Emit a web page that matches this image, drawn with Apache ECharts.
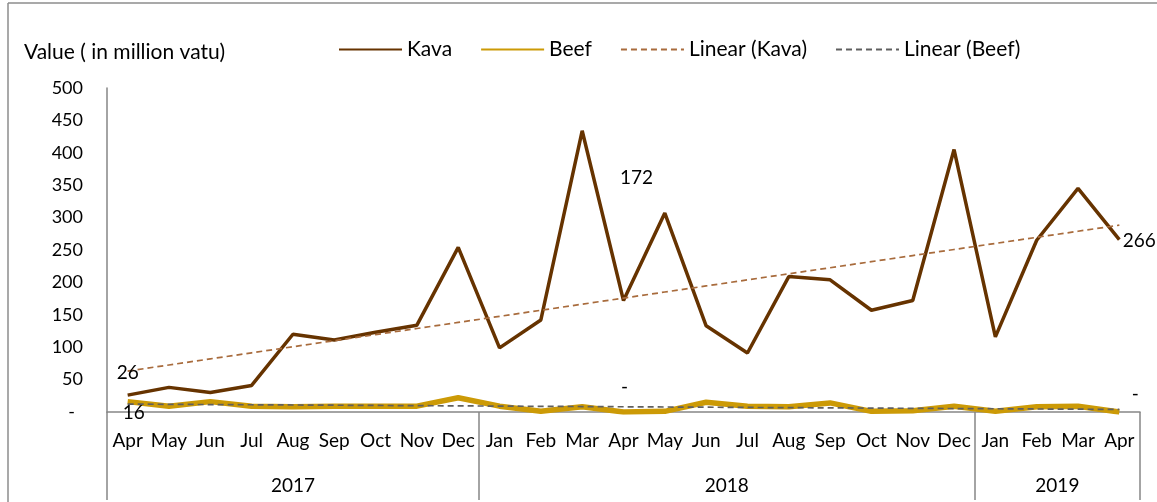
<!DOCTYPE html>
<html>
<head>
<meta charset="utf-8">
<script src="https://cdn.jsdelivr.net/npm/echarts@6/dist/echarts.min.js"></script>
<style>
  html, body { margin: 0; padding: 0; background: #fff; }
  #chart { width: 1157px; height: 502px; }
</style>
</head>
<body>
<div id="chart"></div>
<script>
// months Apr 2017 .. Apr 2019
var months = ['Apr','May','Jun','Jul','Aug','Sep','Oct','Nov','Dec',
              'Jan','Feb','Mar','Apr','May','Jun','Jul','Aug','Sep','Oct','Nov','Dec',
              'Jan','Feb','Mar','Apr'];
var years = ['2017', '2018', '2019'];
var monthsPerYear = [9, 12, 4];

// value in million vatu
var kava = [26, 38, 30, 41, 120, 111, 123, 134, 254,
            99, 142, 434, 172, 307, 133, 91, 209, 204, 157, 172, 405,
            116, 265, 345, 266];
var beef = [16, 9, 16, 9, 8, 9, 9, 9, 22,
            9, 1, 8, 0, 1, 15, 9, 8, 14, 1, 2, 9,
            1, 8, 9, 0];

var FONT = 'Lato';

// trend line (least squares), same as excel "Linear"
function linear(arr){
    var n = arr.length, sx = 0, sy = 0, sxy = 0, sxx = 0;
    for (var i = 0; i < n; i++) {
        sx += i; sy += arr[i]; sxy += i * arr[i]; sxx += i * i;
    }
    var b = (n * sxy - sx * sy) / (n * sxx - sx * sx);
    var a = (sy - b * sx) / n;
    var out = [];
    for (var j = 0; j < n; j++) out.push(+(a + b * j).toFixed(2));
    return out;
}

// year axis: half-month slots so year names sit in the middle of their span
var yearSlots = [];
var yearTicks = {};
for (var k = 0; k <= months.length * 2; k++) yearSlots.push('');
var start = 0;
for (var y = 0; y < years.length; y++) {
    yearSlots[start * 2 + monthsPerYear[y]] = years[y];
    yearTicks[start * 2] = true;
    start += monthsPerYear[y];
}
yearTicks[start * 2] = true;

// labels shown in the reference (index -> text, offset)
function withLabels(arr, labels){
    return arr.map(function (v, i) {
        var l = labels[i];
        if (!l) return v;
        return {
            value: v,
            symbol: 'circle',
            symbolSize: 0,
            label: {
                show: true,
                position: 'inside',
                offset: l.offset,
                formatter: l.text,
                color: '#000',
                fontSize: 19,
                fontFamily: FONT
            }
        };
    });
}

var kavaLabels = {
    0: {text: '26', offset: [0, -22]},
    12: {text: '172', offset: [13, -123]},
    24: {text: '266', offset: [20, 1]}
};
var beefLabels = {
    0: {text: '16', offset: [6, 11]},
    12: {text: '-', offset: [1, -25]},
    24: {text: '-', offset: [16, -18]}
};

var chart = echarts.init(document.getElementById('chart'));
var option = {
    animation: false,
    textStyle: {fontFamily: FONT},
    title: {
        text: 'Value ( in million vatu)',
        left: 19,
        top: 37,
        textStyle: {fontSize: 21, fontWeight: 'normal', color: '#000', fontFamily: FONT}
    },
    legend: {
        left: 333,
        top: 34,
        itemWidth: 63,
        itemHeight: 14,
        itemGap: 28,
        itemStyle: {opacity: 0},
        textStyle: {fontSize: 21, color: '#000', fontFamily: FONT},
        data: ['Kava', 'Beef', 'Linear (Kava)', 'Linear (Beef)']
    },
    grid: {left: 107, right: 17, top: 88, bottom: 90},
    xAxis: [
        {
            type: 'category',
            position: 'bottom',
            data: months,
            axisLine: {lineStyle: {color: '#868686', width: 1.5}},
            axisTick: {show: false},
            axisLabel: {interval: 0, margin: 19, color: '#000', fontSize: 19, fontFamily: FONT}
        },
        {
            type: 'category',
            position: 'bottom',
            boundaryGap: false,
            data: yearSlots,
            axisLine: {show: false},
            axisTick: {
                show: true,
                length: 88,
                interval: function (index) { return !!yearTicks[index]; },
                lineStyle: {color: '#868686', width: 1.5}
            },
            axisLabel: {interval: 0, margin: 64, color: '#000', fontSize: 19, fontFamily: FONT}
        }
    ],
    yAxis: {
        type: 'value',
        min: 0,
        max: 500,
        interval: 50,
        axisLine: {show: true, lineStyle: {color: '#868686', width: 1.5}},
        axisTick: {show: false},
        splitLine: {show: false},
        axisLabel: {
            margin: 24,
            color: '#000',
            fontSize: 18,
            fontFamily: FONT,
            formatter: function (v) { return v === 0 ? '{d|-}' : v; },
            rich: {d: {padding: [0, 8, 0, 0], fontSize: 18, color: '#000'}}
        }
    },
    series: [
        {
            name: 'Kava',
            type: 'line',
            data: withLabels(kava, kavaLabels),
            symbol: 'none',
            color: '#663300',
            lineStyle: {color: '#663300', width: 3.5}
        },
        {
            name: 'Beef',
            type: 'line',
            data: withLabels(beef, beefLabels),
            symbol: 'none',
            color: '#cc9a06',
            lineStyle: {color: '#cc9a06', width: 5.5}
        },
        {
            name: 'Linear (Kava)',
            type: 'line',
            data: linear(kava),
            symbol: 'none',
            color: '#a86b3c',
            lineStyle: {color: '#a86b3c', width: 1.7, type: [6, 4]}
        },
        {
            name: 'Linear (Beef)',
            type: 'line',
            data: linear(beef),
            symbol: 'none',
            color: '#5f5f5f',
            lineStyle: {color: '#5f5f5f', width: 1.7, type: [6, 4]}
        }
    ],
    graphic: [
        {type: 'line', shape: {x1: 8, y1: 3, x2: 8, y2: 502}, style: {stroke: '#8c8c8c', lineWidth: 1.5}},
        {type: 'line', shape: {x1: 8, y1: 3, x2: 1157, y2: 3}, style: {stroke: '#8c8c8c', lineWidth: 1.5}}
    ]
};
chart.setOption(option);
</script>
</body>
</html>
